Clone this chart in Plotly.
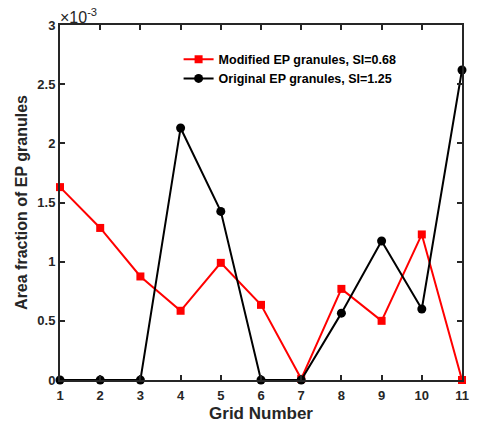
import plotly.graph_objects as go

grid = [1, 2, 3, 4, 5, 6, 7, 8, 9, 10, 11]
modified = [1.63, 1.285, 0.875, 0.585, 0.99, 0.635, 0.01, 0.77, 0.50, 1.23, 0.0]
original = [0.0, 0.0, 0.0, 2.13, 1.425, 0.0, 0.0, 0.565, 1.175, 0.60, 2.62]
scale = 1e-3
ytick_vals = [0, 0.5, 1, 1.5, 2, 2.5, 3]
ytick_text = ["0", "0.5", "1", "1.5", "2", "2.5", "3"]

font_family = "Liberation Sans, Arial, sans-serif"
axis_color = "#262626"

fig = go.Figure()
fig.add_trace(go.Scatter(
    x=grid, y=[v * scale for v in modified], mode="lines+markers",
    name="<b>Modified EP granules, SI=0.68</b>",
    line=dict(color="#ff0000", width=2),
    marker=dict(symbol="square", size=8, color="#ff0000"),
    cliponaxis=False,
))
fig.add_trace(go.Scatter(
    x=grid, y=[v * scale for v in original], mode="lines+markers",
    name="<b>Original EP granules, SI=1.25</b>",
    line=dict(color="#000000", width=2),
    marker=dict(symbol="circle", size=9, color="#000000"),
    cliponaxis=False,
))

fig.update_layout(
    width=480, height=431,
    margin=dict(l=60, r=11, t=25, b=51),
    paper_bgcolor="white", plot_bgcolor="white",
    font=dict(family=font_family, color=axis_color, size=13),
    showlegend=True,
    legend=dict(x=0.295, y=0.945, xanchor="left", yanchor="top",
                bgcolor="rgba(0,0,0,0)", font=dict(size=12.5, color="#000000"),
                tracegroupgap=0, itemwidth=30),
    annotations=[dict(
        text="×10<sup>-3</sup>", xref="paper", yref="paper", x=0.0, y=1.0,
        xanchor="left", yanchor="bottom", showarrow=False,
        font=dict(size=16, color=axis_color), xshift=-2, yshift=-3,
    )],
)
fig.update_xaxes(
    range=[1, 11], tickvals=grid, ticktext=[f"<b>{g}</b>" for g in grid],
    ticks="inside", ticklen=5, tickwidth=2, tickcolor=axis_color,
    showline=True, linewidth=2, linecolor=axis_color, mirror="ticks",
    showgrid=False, zeroline=False,
    tickfont=dict(size=13, color=axis_color),
    ticklabelstandoff=2,
    title=dict(text="<b>Grid Number</b>", font=dict(size=17, color=axis_color), standoff=6),
)
fig.update_yaxes(
    range=[0, 3 * scale], tickvals=[v * scale for v in ytick_vals],
    ticktext=[f"<b>{t}</b>" for t in ytick_text],
    ticks="inside", ticklen=5, tickwidth=2, tickcolor=axis_color,
    showline=True, linewidth=2, linecolor=axis_color, mirror="ticks",
    showgrid=False, zeroline=False,
    tickfont=dict(size=13, color=axis_color),
    title=dict(text="<b>Area fraction of EP granules</b>", font=dict(size=16, color=axis_color), standoff=6),
)

fig.write_html("out.html")
